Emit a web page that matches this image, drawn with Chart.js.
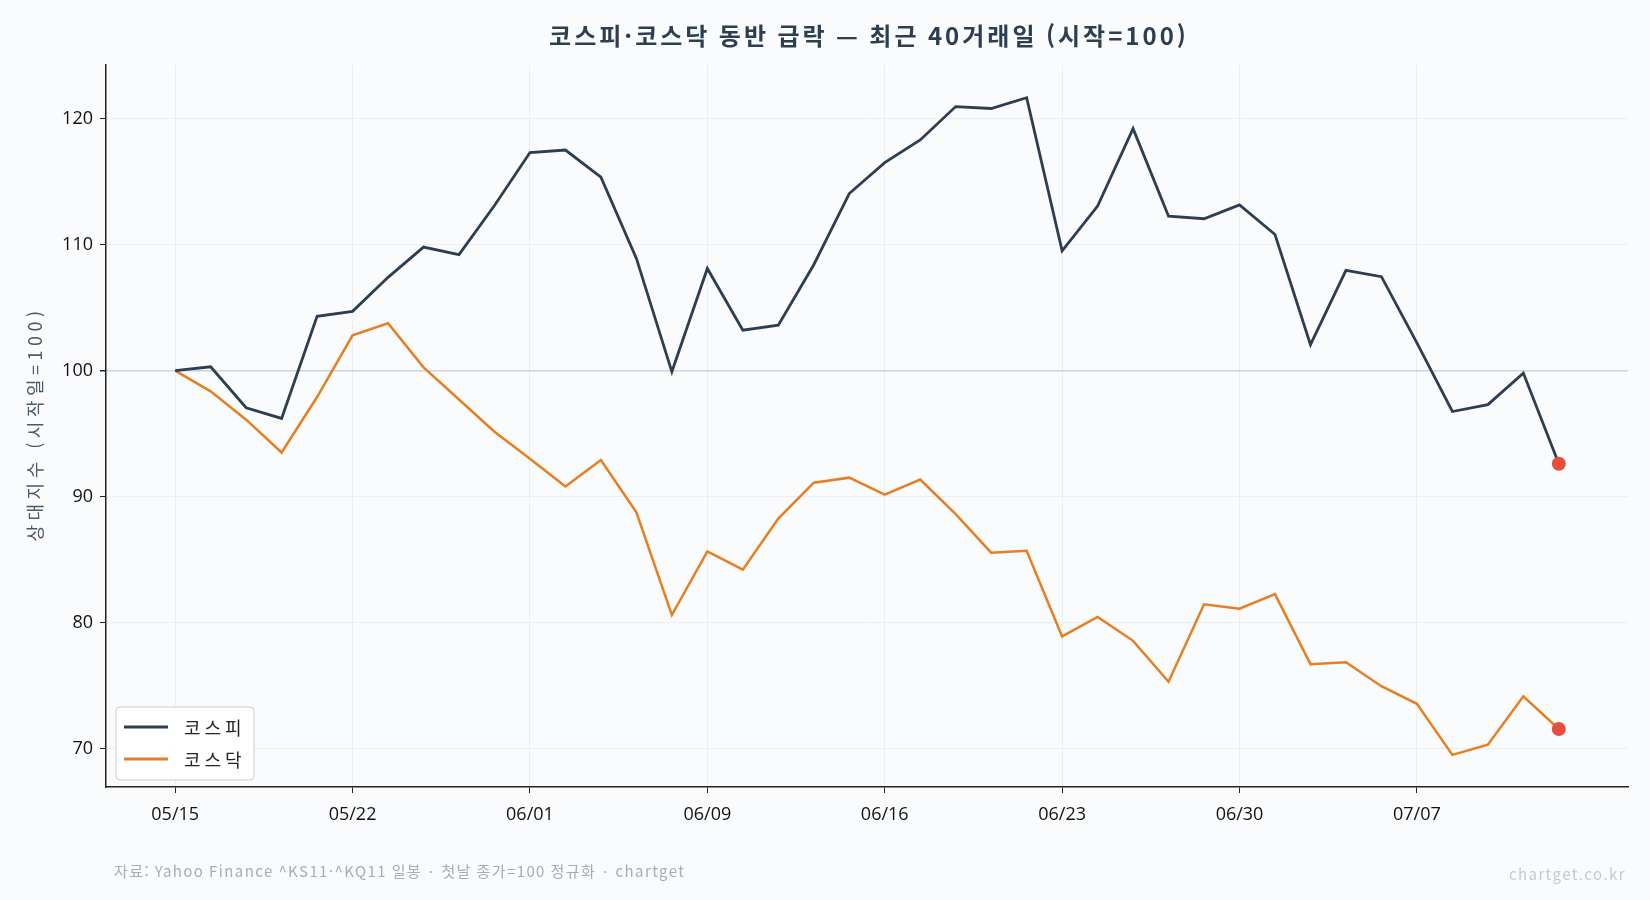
<!DOCTYPE html>
<html lang="ko">
<head>
<meta charset="utf-8">
<title>코스피·코스닥 동반 급락</title>
<script src="https://cdn.jsdelivr.net/npm/chart.js@4.4.1/dist/chart.umd.min.js"></script>
<style>
  html, body { margin: 0; padding: 0; background: #fafbfd; }
  #wrap { width: 1650px; height: 900px; }
</style>
</head>
<body>
<div id="wrap"><canvas id="chart" width="1650" height="900"></canvas></div>
<script>
// x 축 눈금 (5거래일 간격)
const dates = ['05/15', '05/22', '06/01', '06/09', '06/16', '06/23', '06/30', '07/07'];
const xTickIdx = [0, 5, 10, 15, 20, 25, 30, 35];
const yTicks = [70, 80, 90, 100, 110, 120];

// 첫날 종가 = 100 으로 정규화한 값
const kospi = [100, 100.3, 97.05, 96.2, 104.3, 104.7, 107.4, 109.8, 109.2, 113.1,
  117.3, 117.5, 115.35, 108.9, 99.9, 108.1, 103.2, 103.6, 108.4, 114.05,
  116.5, 118.3, 120.95, 120.8, 121.65, 109.5, 113.05, 119.2, 112.25, 112.05,
  113.15, 110.8, 102.05, 107.95, 107.45, 102.2, 96.75, 97.3, 99.8, 92.6];
const kosdaq = [100, 98.35, 96.1, 93.5, 97.9, 102.8, 103.75, 100.25, 97.7, 95.15,
  93.0, 90.8, 92.9, 88.75, 80.6, 85.65, 84.2, 88.25, 91.1, 91.5,
  90.15, 91.35, 88.6, 85.55, 85.7, 78.9, 80.45, 78.55, 75.3, 81.45,
  81.1, 82.25, 76.7, 76.85, 74.95, 73.55, 69.5, 70.3, 74.15, 71.55];

const seriesNames = ['코스피', '코스닥'];
const colors = ['#2c3e50', '#e67e22'];
const KR = '"Noto Sans CJK KR", "Noto Sans", sans-serif';
const NUM = '"Open Sans", "Noto Sans", sans-serif';

const toPoints = arr => arr.map((v, i) => ({ x: i, y: v }));
const lastDot = arr => c => (c.dataIndex === arr.length - 1 ? 7 : 0);

// 제목, 축 이름, 범례, 출처 텍스트
const decorPlugin = {
  id: 'decor',
  afterDraw(chart) {
    const { ctx, chartArea: a } = chart;
    ctx.save();

    ctx.fillStyle = '#2c3e50';
    ctx.font = 'bold 24px ' + KR;
    ctx.letterSpacing = '3px';
    ctx.textAlign = 'center';
    ctx.textBaseline = 'middle';
    ctx.fillText('코스피·코스닥 동반 급락 — 최근 40거래일 (시작=100)', (a.left + a.right) / 2 + 2, 36);

    ctx.save();
    ctx.translate(35, (a.top + a.bottom) / 2);
    ctx.rotate(-Math.PI / 2);
    ctx.fillStyle = '#4a5a6c';
    ctx.font = '18px ' + KR;
    ctx.letterSpacing = '4.5px';
    ctx.fillText('상대지수 (시작일=100)', 2, 0);
    ctx.restore();

    // 범례
    const lx = 116, ly = 707, lw = 138, lh = 73;
    ctx.letterSpacing = '0px';
    ctx.fillStyle = 'rgba(255,255,255,0.85)';
    ctx.strokeStyle = '#cccccc';
    ctx.lineWidth = 1;
    ctx.beginPath();
    ctx.roundRect(lx, ly, lw, lh, 4);
    ctx.fill();
    ctx.stroke();
    ctx.font = '18px ' + KR;
    ctx.letterSpacing = '4px';
    ctx.textAlign = 'left';
    seriesNames.forEach((name, i) => {
      const yy = ly + 20 + i * 32;
      ctx.strokeStyle = colors[i];
      ctx.lineWidth = 2.8;
      ctx.beginPath();
      ctx.moveTo(lx + 8, yy);
      ctx.lineTo(lx + 52, yy);
      ctx.stroke();
      ctx.fillStyle = '#222222';
      ctx.fillText(name, lx + 68, yy + 1);
    });

    // 출처
    ctx.font = '15px ' + KR;
    ctx.letterSpacing = '1.4px';
    ctx.fillStyle = '#a3acb9';
    ctx.fillText('자료: Yahoo Finance ^KS11·^KQ11 일봉 · 첫날 종가=100 정규화 · chartget', 114, 871);
    ctx.textAlign = 'right';
    ctx.fillStyle = '#c3c9d2';
    ctx.fillText('chartget.co.kr', 1626, 874);

    ctx.letterSpacing = '0px';
    ctx.restore();
  }
};

new Chart(document.getElementById('chart'), {
  type: 'line',
  data: {
    datasets: [{
      label: seriesNames[0],
      data: toPoints(kospi),
      borderColor: colors[0],
      borderWidth: 2.8,
      pointRadius: lastDot(kospi),
      pointBackgroundColor: '#e74c3c',
      pointBorderWidth: 0,
      tension: 0
    }, {
      label: seriesNames[1],
      data: toPoints(kosdaq),
      borderColor: colors[1],
      borderWidth: 2.5,
      pointRadius: lastDot(kosdaq),
      pointBackgroundColor: '#e74c3c',
      pointBorderWidth: 0,
      tension: 0
    }]
  },
  options: {
    responsive: false,
    animation: false,
    devicePixelRatio: 1,
    layout: { padding: { left: 0, right: 22, top: 65, bottom: 0 } },
    plugins: { legend: { display: false }, title: { display: false }, tooltip: { enabled: false } },
    scales: {
      x: {
        type: 'linear',
        min: -1.95,
        max: 40.95,
        afterBuildTicks: axis => { axis.ticks = xTickIdx.map(v => ({ value: v })); },
        afterFit: axis => { axis.height = 113; },
        ticks: {
          callback: v => dates[xTickIdx.indexOf(v)],
          color: '#111111',
          font: { family: NUM, size: 18 },
          padding: 11,
          maxRotation: 0
        },
        grid: { color: '#eceef2', lineWidth: 1, tickColor: '#222222', tickLength: 6 },
        border: { color: '#222222', width: 1.5 }
      },
      y: {
        min: 66.95,
        max: 124.25,
        afterBuildTicks: axis => { axis.ticks = yTicks.map(v => ({ value: v })); },
        afterFit: axis => { axis.width = 106; },
        ticks: {
          color: '#111111',
          font: { family: NUM, size: 18 },
          padding: 7
        },
        grid: {
          color: c => (c.tick && c.tick.value === 100 ? '#cdd4dd' : '#eceef2'),
          lineWidth: c => (c.tick && c.tick.value === 100 ? 1.5 : 1),
          tickColor: '#222222',
          tickLength: 6
        },
        border: { color: '#222222', width: 1.5 }
      }
    }
  },
  plugins: [decorPlugin]
});
</script>
</body>
</html>
